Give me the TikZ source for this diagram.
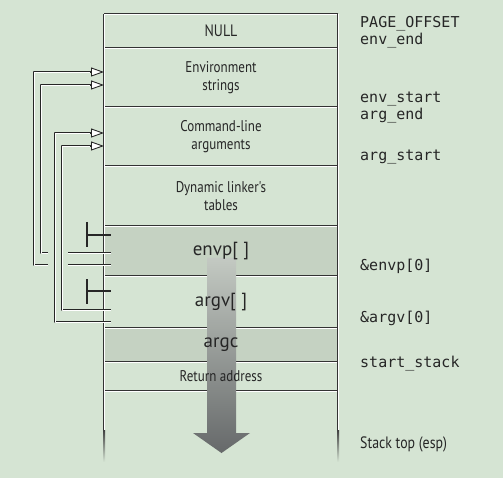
\documentclass[tikz,border=0pt]{standalone}
\usepackage{fontspec}
\setmonofont{DejaVu Sans Mono}
\newfontfamily\boxfont[FakeStretch=0.84]{PT Sans}
\newfontfamily\cellfont{PT Sans}
\usetikzlibrary{arrows.meta}
\definecolor{bgmint}{HTML}{D5E4D3}
\definecolor{cellgray}{HTML}{C5D2C2}
\definecolor{inkgray}{HTML}{262626}
\definecolor{arrtop}{HTML}{C3C9C2}
\definecolor{arrbot}{HTML}{66696A}
\tikzset{
  row/.style={minimum width=234pt, inner sep=0pt, outer sep=0pt},
  sep/.style={draw=black!80, line width=0.8pt, double=white, double distance=0.6pt},
  ptr/.style={draw=black!85, line width=0.8pt, double=white, double distance=0.9pt},
  tip/.style={draw=black!85, line width=0.9pt, -{Triangle[length=13pt,width=9pt,fill=white]}},
  term/.style={draw=black!85, line width=1.6pt},
  lbl/.style={anchor=base west, inner sep=0pt, text=inkgray, font=\ttfamily\fontsize{15}{17}\selectfont},
  boxtxt/.style={text=inkgray, align=center, font=\boxfont\fontsize{15.5}{18}\selectfont},
  celltxt/.style={text=inkgray, font=\cellfont\fontsize{19}{21}\selectfont},
}
\begin{document}
\begin{tikzpicture}[x=1pt, y=-1pt, line join=round]
\def\xl{104} \def\xr{338} \def\xm{221} % cot
\fill[bgmint] (0,0) rectangle (503,478);
\useasboundingbox (0,0) rectangle (503,478);

% cac o nho
\node[row, minimum height=34pt] (null) at (\xm,31) {};
\node[row, minimum height=59pt] (env) at (\xm,77.5) {};
\node[row, minimum height=59pt] (cmd) at (\xm,136.5) {};
\node[row, minimum height=60pt] (dyn) at (\xm,196) {};
\node[row, minimum height=50pt, fill=cellgray] (envp) at (\xm,251) {};
\node[row, minimum height=52pt] (argv) at (\xm,302) {};
\node[row, minimum height=34pt, fill=cellgray] (argc) at (\xm,345) {};
\node[row, minimum height=29pt] (ret) at (\xm,376.5) {};

\foreach \r in {null,env,cmd,dyn,envp,argv,argc,ret}
  \draw[sep] (\r.north west) -- (\r.north east);
\draw[sep] (ret.south west) -- (ret.south east);
\draw[sep] (null.north west) -- (\xl,430);
\draw[sep] (null.north east) -- (\xr,430);
\shade[top color=black!75, bottom color=bgmint] (\xl-1,430) rectangle (\xl+1,462);
\shade[top color=black!75, bottom color=bgmint] (\xr-1,430) rectangle (\xr+1,462);

% mui ten lon
\shade[top color=arrtop, bottom color=arrbot]
  (207,258) -- (236,258) -- (236,433) -- (250,433) -- (221.5,453) -- (193,433) -- (207,433) -- cycle;

\node[boxtxt, font=\boxfont\fontsize{16.5}{18}\selectfont] at (null) {NULL};
\node[boxtxt] at (env) {Environment\\strings};
\node[boxtxt] at (cmd) {Command-line\\arguments};
\node[boxtxt] at (dyn) {Dynamic linker's\\tables};
\node[celltxt] at (envp) {envp[\;]};
\node[celltxt] at (argv) {argv[\;]};
\node[celltxt] at (argc) {argc};
\node[boxtxt] at (ret) {Return address};

\node[lbl] at (360,28) {PAGE\_OFFSET};
\node[lbl] at (360,45) {env\_end};
\node[lbl] at (360,103) {env\_start};
\node[lbl] at (360,120) {arg\_end};
\node[lbl] at (360,161) {arg\_start};
\node[lbl] at (360,271) {\&envp[0]};
\node[lbl] at (360,322) {\&argv[0]};
\node[lbl] at (360,367) {start\_stack};
\node[lbl, font=\boxfont\fontsize{16.5}{18}\selectfont] at (360,448) {Stack top (esp)};

% con tro
\coordinate (envA) at (\xl,72); \coordinate (envB) at (\xl,85);
\coordinate (cmdA) at (\xl,133); \coordinate (cmdB) at (\xl,146);
\coordinate (pe0) at (111,265); \coordinate (pe1) at (111,253);
\coordinate (pa0) at (111,322); \coordinate (pa1) at (111,310);

\draw[ptr] (pe0) -- (68,265);
\draw[ptr] (48,265) -- (34,265) |- ([xshift=-6pt]envA);
\draw[ptr] (pe1) -- (68,253);
\draw[ptr] (48,253) -- (41,253) |- ([xshift=-6pt]envB);
\draw[ptr] (pa0) -| (55,133) -- ([xshift=-6pt]cmdA);
\draw[ptr] (pa1) -| (62,146) -- ([xshift=-6pt]cmdB);
\foreach \t in {envA,envB,cmdA,cmdB}
  \draw[tip] ([xshift=-14pt]\t) -- (\t);

\draw[term] (87,222) -- (87,247) (87,235) -- (111,235);
\draw[term] (87,279) -- (87,304) (87,291) -- (111,291);
\end{tikzpicture}
\end{document}
